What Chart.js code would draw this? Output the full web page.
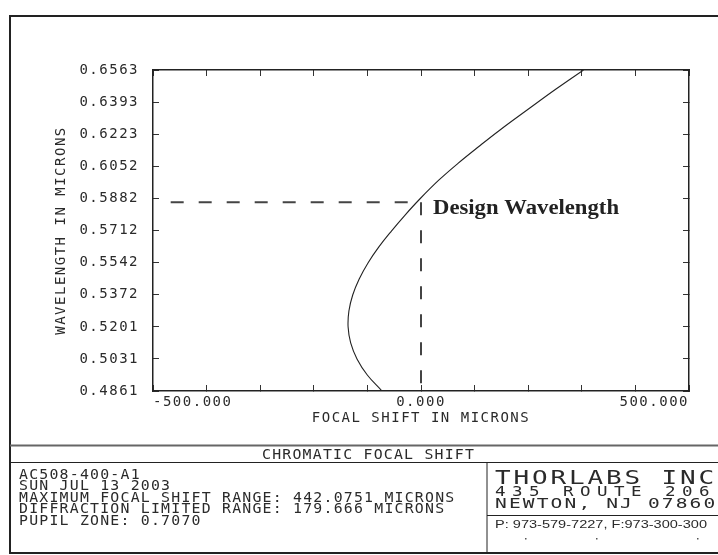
<!DOCTYPE html>
<html><head><meta charset="utf-8">
<script src="https://cdn.jsdelivr.net/npm/chart.js@4"></script>
<style>html,body{margin:0;padding:0;background:#fff;}canvas{display:block;background:#fff;}</style>
</head><body>
<canvas id="c" width="718" height="555"></canvas>
<script>
// ---- data ----
const wavelength = [0.4861,0.4946,0.5031,0.5116,0.5200,0.5285,0.5370,0.5455,0.5540,0.5625,0.5709,0.5794,0.5879,0.5980,0.6068,0.6156,0.6245,0.6360,0.6462,0.6563];
const focalShift = [-72.8,-100.2,-119.4,-131.2,-136.0,-134.5,-127.4,-115.3,-98.9,-78.6,-55.2,-29.7,-2.2,33.6,69.0,107.3,147.4,202.4,251.9,303.2];
const designWavelength = 0.5862;
const designGuideStart = -467;
const yTicks = [0.4861,0.5031,0.5201,0.5372,0.5542,0.5712,0.5882,0.6052,0.6223,0.6393,0.6563];
const xTicks = [-500,-400,-300,-200,-100,0,100,200,300,400,500];
const xLabelTicks = [-500,0,500];
const xTitle = 'FOCAL SHIFT IN MICRONS';
const yTitle = 'WAVELENGTH IN MICRONS';
const plotTitle = 'CHROMATIC FOCAL SHIFT';
const annotationText = 'Design Wavelength';
const infoLines = ['AC508-400-A1','SUN JUL 13 2003','MAXIMUM FOCAL SHIFT RANGE: 442.0751 MICRONS','DIFFRACTION LIMITED RANGE: 179.666 MICRONS','PUPIL ZONE: 0.7070'];
const companyLines = ['THORLABS INC','435 ROUTE 206','NEWTON, NJ 07860'];
const phoneLine = 'P: 973-579-7227, F:973-300-300';

const MONO = 'DejaVu Sans Mono';
const INK = '#2a2a2a';

function drawSpaced(ctx, text, x, base, font, advance, sx) {
  ctx.save();
  ctx.font = font; ctx.letterSpacing = '0px';
  ctx.textAlign = 'left'; ctx.textBaseline = 'alphabetic';
  for (let i = 0; i < text.length; i++) {
    ctx.save();
    ctx.translate(x + i * advance, base);
    ctx.scale(sx, 1);
    ctx.fillText(text[i], 0, 0);
    ctx.restore();
  }
  ctx.restore();
}
function drawFit(ctx, text, x, base, font, width) {
  ctx.save();
  ctx.font = font; ctx.letterSpacing = '0px';
  ctx.textAlign = 'left'; ctx.textBaseline = 'alphabetic';
  const w = ctx.measureText(text).width;
  ctx.translate(x, base);
  ctx.scale(width / w, 1);
  ctx.fillText(text, 0, 0);
  ctx.restore();
}
function line(ctx, x1, y1, x2, y2, w, c) {
  ctx.save(); ctx.beginPath(); ctx.lineWidth = w; ctx.strokeStyle = c;
  ctx.moveTo(x1, y1); ctx.lineTo(x2, y2); ctx.stroke(); ctx.restore();
}

const framePlugin = {
  id: 'frame',
  beforeUpdate(chart) { chart.ctx.letterSpacing = '1.5px'; },
  beforeDraw(chart) { chart.ctx.letterSpacing = '1.5px'; },
  afterDraw(chart) {
    const ctx = chart.ctx;
    const W = chart.width;
    ctx.save();
    ctx.fillStyle = INK;
    // outer frame
    line(ctx, 9, 16, W, 16, 2, '#222');
    line(ctx, 10, 15, 10, 554, 2, '#222');
    line(ctx, 9, 553, W, 553, 2, '#222');
    // title box
    line(ctx, 10, 445.5, W, 445.5, 2, '#666');
    line(ctx, 10, 462.5, W, 462.5, 1, '#222');
    line(ctx, 487, 462.5, 487, 553, 1, '#222');
    line(ctx, 487, 515.5, W, 515.5, 1, '#222');
    drawSpaced(ctx, plotTitle, 262, 459, '13.5px "' + MONO + '"', 10.15, 1.1);
    infoLines.forEach((t, i) => drawSpaced(ctx, t, 19, 478.5 + i * 11.6, '13.5px "' + MONO + '"', 10.15, 1.1));
    drawSpaced(ctx, companyLines[0], 495, 483.5, '20px "' + MONO + '"', 18.5, 1.3);
    drawSpaced(ctx, companyLines[1], 495, 495.5, '14px "' + MONO + '"', 17.0, 1.25);
    drawSpaced(ctx, companyLines[2], 495, 507.8, '14.5px "' + MONO + '"', 13.9, 1.35);
    drawFit(ctx, phoneLine, 495, 527.5, '11px "Liberation Sans"', 212);
    ctx.fillStyle = '#555';
    [[525,538],[596,538],[697,538]].forEach(p => ctx.fillRect(p[0], p[1], 1.5, 1.5));
    // annotation
    const xs = chart.scales.x, ys = chart.scales.y;
    ctx.fillStyle = '#222';
    drawFit(ctx, annotationText, xs.getPixelForValue(0) + 12, ys.getPixelForValue(designWavelength) + 12,
            'bold 20px "Liberation Serif"', 186);
    ctx.restore();
  }
};

const tickFont = { family: MONO, size: 14 };
const gridOpts = { drawOnChartArea: false, drawTicks: true, tickLength: -6, color: '#333', lineWidth: 1 };
const borderOpts = { display: true, color: '#222', width: 1.5 };
const setXTicks = s => { s.ticks = xTicks.map(v => ({ value: v })); };
const setYTicks = s => { s.ticks = yTicks.map(v => ({ value: v })); };

new Chart(document.getElementById('c'), {
  type: 'scatter',
  data: {
    datasets: [
      { data: wavelength.map((w, i) => ({ x: focalShift[i], y: w })), showLine: true, tension: 0.4,
        borderColor: '#222', borderWidth: 1.1, pointRadius: 0, fill: false },
      { data: [{ x: designGuideStart, y: designWavelength }, { x: 0, y: designWavelength }], showLine: true,
        borderColor: '#444', borderWidth: 2, borderDash: [13, 15], pointRadius: 0, fill: false },
      { data: [{ x: 0, y: designWavelength }, { x: 0, y: yTicks[0] }], showLine: true,
        borderColor: '#444', borderWidth: 2, borderDash: [13, 15], pointRadius: 0, fill: false }
    ]
  },
  options: {
    responsive: false, animation: false, devicePixelRatio: 1,
    layout: { padding: { left: 0, top: 70, right: 29, bottom: 124 } },
    plugins: { legend: { display: false }, tooltip: { enabled: false } },
    scales: {
      x: {
        type: 'linear', position: 'bottom', min: -500, max: 500,
        afterBuildTicks: setXTicks,
        afterFit: s => { s.height = 40; },
        ticks: { autoSkip: false, maxRotation: 0, minRotation: 0, align: 'inner', padding: 9, font: tickFont, color: INK,
                 callback: v => xLabelTicks.includes(v) ? v.toFixed(3) : '' },
        grid: gridOpts, border: borderOpts,
        title: { display: true, text: xTitle, font: tickFont, color: INK, padding: { top: 0, bottom: 4 } }
      },
      x2: {
        type: 'linear', position: 'top', min: -500, max: 500,
        afterBuildTicks: setXTicks,
        afterFit: s => { s.height = 0; },
        ticks: { display: false }, grid: gridOpts, border: borderOpts
      },
      y: {
        type: 'linear', position: 'left', min: yTicks[0], max: yTicks[yTicks.length - 1],
        afterBuildTicks: setYTicks,
        afterFit: s => { s.width = 153; },
        ticks: { autoSkip: false, padding: 20, font: tickFont, color: INK, callback: v => v.toFixed(4) },
        grid: gridOpts, border: borderOpts,
        title: { display: true, text: yTitle, font: tickFont, color: INK, padding: { top: 53, bottom: 0 } }
      },
      y2: {
        type: 'linear', position: 'right', min: yTicks[0], max: yTicks[yTicks.length - 1],
        afterBuildTicks: setYTicks,
        afterFit: s => { s.width = 0; },
        ticks: { display: false }, grid: gridOpts, border: borderOpts
      }
    }
  },
  plugins: [framePlugin]
});
</script>
</body></html>
